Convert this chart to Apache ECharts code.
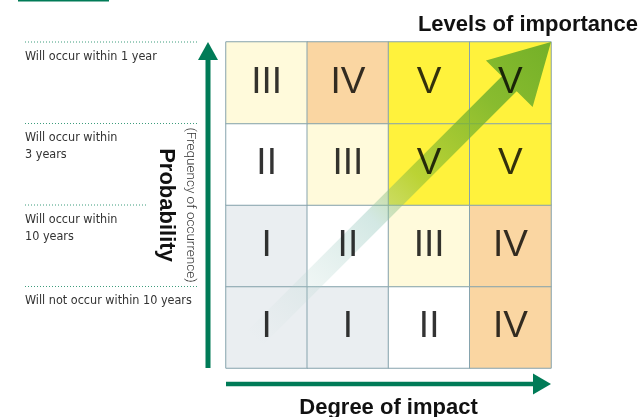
<!DOCTYPE html>
<html>
<head>
<meta charset="utf-8">
<script src="https://cdn.jsdelivr.net/npm/echarts@6/dist/echarts.min.js"></script>
<style>
html,body{margin:0;padding:0;background:#fff;}
#main{width:643px;height:417px;}
</style>
</head>
<body>
<div id="main"></div>
<script>
// ---- Data ----
const impactLevels = ['1', '2', '3', '4']; // degree of impact, low -> high
const probabilityLabels = [
  'Will not occur within 10 years',
  'Will occur within\n10 years',
  'Will occur within\n3 years',
  'Will occur within 1 year'
]; // bottom -> top
const levelRows = [
  [1, 1, 2, 4], // Will not occur within 10 years
  [1, 2, 3, 4], // within 10 years
  [2, 3, 5, 5], // within 3 years
  [3, 4, 5, 5]  // within 1 year
];
const romanNumerals = ['I', 'II', 'III', 'IV', 'V'];
const titleText = 'Levels of importance';
const xName = 'Degree of impact';
const yName = 'Probability';
const ySubName = '(Frequency of occurrence)';

// ---- Styles ----
const levelColors = { 1: '#eaeef1', 2: '#ffffff', 3: '#fffadb', 4: '#fad6a2', 5: '#fff23c' };
const green = '#007b57';
const condFont = '"DejaVu Sans Condensed", Arial, sans-serif';
const boldFont = 'Arial, "Liberation Sans", sans-serif';
const lightFont = 'Roboto, "Liberation Sans", sans-serif';

const cellData = [];
const labelData = [];
levelRows.forEach((row, yi) => row.forEach((lv, xi) => {
  cellData.push({ value: [xi, yi, lv], itemStyle: { color: levelColors[lv] } });
  labelData.push({ value: [xi, yi, lv] });
}));

const chart = echarts.init(document.getElementById('main'));
const option = {
  animation: false,
  title: {
    text: titleText, right: 0, top: 9,
    textStyle: { fontFamily: boldFont, fontWeight: 'bold', fontSize: 22, color: '#111' }
  },
  grid: { left: 226, top: 42, right: 92, bottom: 49, containLabel: false, outerBoundsMode: 'none' },
  xAxis: {
    type: 'category', data: impactLevels,
    axisLine: { show: false }, axisTick: { show: false }, axisLabel: { show: false },
    splitLine: { show: false },
    name: xName, nameLocation: 'middle', nameGap: 29,
    nameTextStyle: { fontFamily: boldFont, fontWeight: 'bold', fontSize: 22, color: '#111', verticalAlign: 'top' }
  },
  yAxis: {
    type: 'category', data: probabilityLabels,
    axisLine: { show: false }, axisTick: { show: false }, axisLabel: { show: false },
    splitLine: { show: false }
  },
  series: [
    {
      type: 'heatmap', z: 1,
      data: cellData,
      itemStyle: { borderColor: '#86a3ad', borderWidth: 1 },
      label: { show: false },
      emphasis: { disabled: true }
    },
    {
      type: 'scatter', z: 10,
      data: labelData,
      symbolSize: 2, itemStyle: { color: 'rgba(0,0,0,0)' },
      label: {
        show: true, position: 'inside',
        formatter: p => romanNumerals[p.value[2] - 1],
        fontFamily: boldFont, fontWeight: 'normal',
        fontSize: 37, color: '#000'
      },
      labelLayout: { hideOverlap: false },
      emphasis: { disabled: true }
    }
  ]
};
chart.setOption(option);

function extras() {
  const c0 = chart.convertToPixel({ gridIndex: 0 }, [0, 0]);
  const c1 = chart.convertToPixel({ gridIndex: 0 }, [1, 1]);
  const bw = c1[0] - c0[0], bh = c0[1] - c1[1];
  const left = c0[0] - bw / 2, bottom = c0[1] + bh / 2;
  const right = left + bw * impactLevels.length;
  const top = bottom - bh * probabilityLabels.length;
  const g = [];
  // small green bar top-left
  g.push({ type: 'rect', shape: { x: 18, y: 0, width: 91, height: 1.5 }, style: { fill: green }, z: 20 });
  // row labels and dotted lines
  probabilityLabels.forEach((lab, i) => {
    const rowTop = bottom - bh * (i + 1);
    const x2 = (i === 1) ? left - 79 : left - 28;
    g.push({ type: 'line', shape: { x1: left - 201, y1: rowTop, x2: x2, y2: rowTop },
      style: { stroke: '#3d9c7c', lineWidth: 1, lineDash: [1, 2] }, z: 20 });
    g.push({ type: 'text', x: left - 201, y: rowTop + 6,
      style: { text: lab, font: '12.5px ' + condFont, fill: '#333', lineHeight: 17, verticalAlign: 'top', align: 'left' }, z: 20 });
  });
  // vertical arrow
  const vx = left - 18;
  g.push({ type: 'rect', shape: { x: vx - 2.5, y: top + 16, width: 5, height: bottom - top - 16 }, style: { fill: green }, z: 20 });
  g.push({ type: 'polygon', shape: { points: [[vx - 10, top + 18], [vx + 10, top + 18], [vx, top]] }, style: { fill: green }, z: 20 });
  // horizontal arrow
  const hy = bottom + 16;
  g.push({ type: 'rect', shape: { x: left, y: hy - 2.25, width: right - left - 16, height: 4.5 }, style: { fill: green }, z: 20 });
  g.push({ type: 'polygon', shape: { points: [[right - 18, hy - 10.5], [right - 18, hy + 10.5], [right, hy]] }, style: { fill: green }, z: 20 });
  // rotated axis texts
  const midY = (top + bottom) / 2;
  g.push({ type: 'text', x: left - 60, y: midY, rotation: -Math.PI / 2,
    style: { text: yName, font: 'bold 22px ' + boldFont, fill: '#111', align: 'center', verticalAlign: 'middle' }, z: 20 });
  g.push({ type: 'text', x: left - 36, y: midY, rotation: -Math.PI / 2,
    style: { text: ySubName, font: '300 13.5px ' + lightFont, fill: '#333', align: 'center', verticalAlign: 'middle' }, z: 20 });
  // big diagonal arrow
  const T = [right, top];
  const L = 420, headLen = 59, headHalf = 33, shaftHalf = 10.5;
  const d = [-Math.SQRT1_2, Math.SQRT1_2]; // from tip towards tail
  const n = [Math.SQRT1_2, Math.SQRT1_2];  // perpendicular
  const P = (a, b) => [T[0] + d[0] * a + n[0] * b, T[1] + d[1] * a + n[1] * b];
  const pts = [T, P(headLen, headHalf), P(headLen, shaftHalf), P(L, shaftHalf), P(L, -shaftHalf), P(headLen, -shaftHalf), P(headLen, -headHalf)];
  const S = P(L, 0);
  g.push({ type: 'polygon', shape: { points: pts }, z: 5,
    style: { fill: new echarts.graphic.LinearGradient(S[0], S[1], T[0], T[1], [
      { offset: 0, color: 'rgba(190,215,210,0)' },
      { offset: 0.4, color: 'rgba(150,200,190,0.42)' },
      { offset: 0.55, color: 'rgba(120,180,45,0.5)' },
      { offset: 0.8, color: 'rgba(120,180,45,0.88)' },
      { offset: 1, color: 'rgba(116,176,40,1)' }
    ], true) } });
  chart.setOption({ graphic: g });
}
extras();
</script>
</body>
</html>
